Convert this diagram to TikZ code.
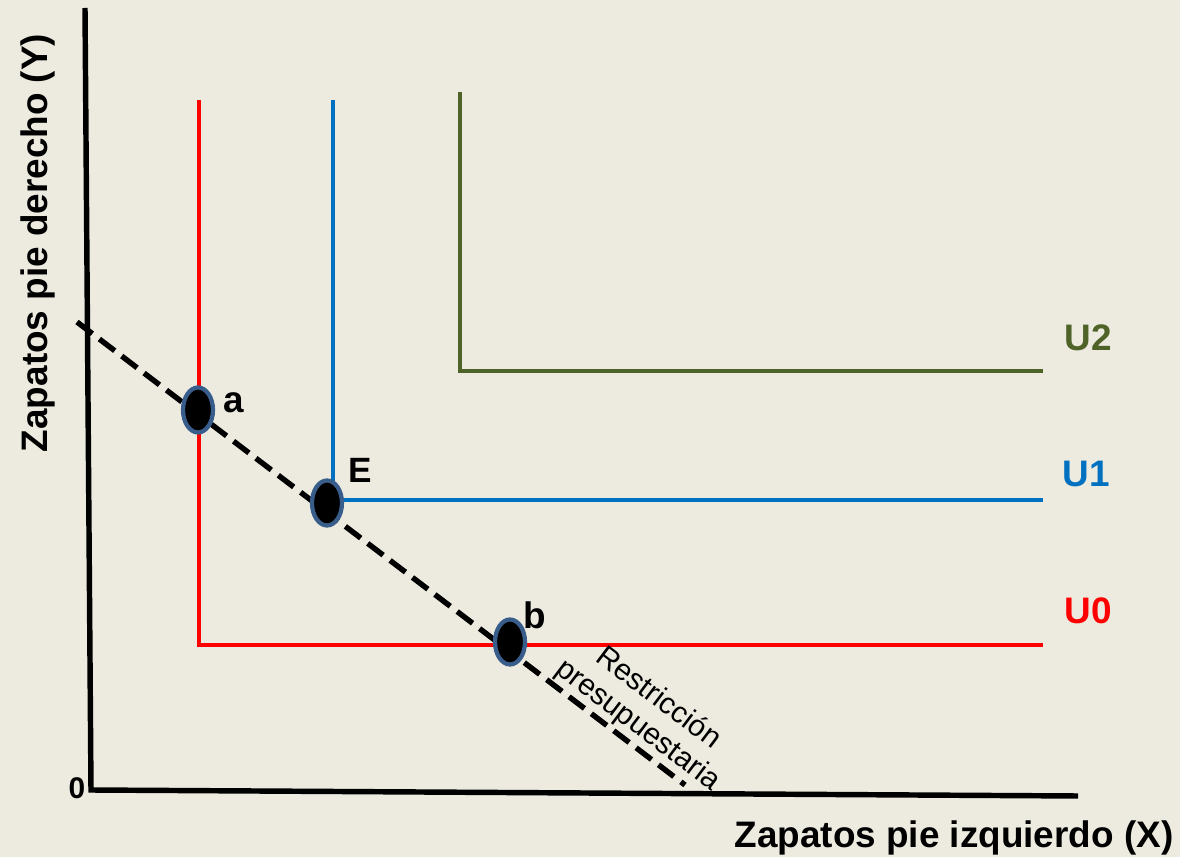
\documentclass[tikz,border=0pt]{standalone}
\usepackage{fontspec}
\setmainfont{Liberation Sans}
\usetikzlibrary{shapes.geometric}

\definecolor{bgcol}{RGB}{237,235,224}
\definecolor{ured}{RGB}{255,0,0}
\definecolor{ublue}{RGB}{0,112,192}
\definecolor{ugreen}{RGB}{79,98,40}
\definecolor{dotborder}{RGB}{56,93,138}

\begin{document}
\begin{tikzpicture}[x=0.02cm, y=-0.02cm,
    curve/.style={line width=2.7pt},
    point/.style={ellipse, draw=dotborder, fill=black, line width=2.4pt,
      minimum width=0.6cm, minimum height=0.9cm, inner sep=0pt},
    lbl/.style={font=\fontsize{21}{25}\selectfont\bfseries}]

    % Background and frame
    \fill[bgcol] (0,0) rectangle (1180,857);
    \useasboundingbox (0,0) rectangle (1180,857);

    % Axes
    \coordinate (ytop) at (85,8);
    \coordinate (origin) at (91,790);
    \coordinate (xend) at (1078,796);
    \draw[line width=3.1pt] (ytop) -- (origin) -- (xend);

    % Indifference curves (perfect complements)
    \draw[curve, ured] (199,100) -- (199,645) -- (1043,645);
    \draw[curve, ublue] (333,100) -- (333,500) -- (1043,500);
    \draw[curve, ugreen] (460,92) -- (460,371) -- (1043,371);

    % Budget line
    \coordinate (bstart) at (77,322);
    \coordinate (bend) at (685,785);
    \draw[line width=3.1pt, dash pattern=on 11pt off 5pt] (bstart) -- (bend);

    % Points on the budget line
    \node[point] (a) at (198,410) {};
    \node[point] (E) at (327,503) {};
    \node[point] (b) at (510,642) {};

    % Point labels
    \node[lbl] (la) at (234,403) {a};
    \node[lbl, font=\fontsize{20}{24}\selectfont\bfseries] (lE) at (360,470) {E};
    \node[lbl] (lb) at (535,615) {b};

    % Curve labels
    \node[lbl, text=ugreen] (lU2) at (1088,338) {U2};
    \node[lbl, text=ublue] (lU1) at (1086,474) {U1};
    \node[lbl, text=ured] (lU0) at (1088,611) {U0};

    % Axis labels
    \node[lbl, font=\fontsize{17}{20}\selectfont\bfseries] (zero) at (77,788) {0};
    \node[lbl, anchor=base] (xlabel) at (954,847) {Zapatos pie izquierdo (X)};
    \node[lbl, anchor=base, rotate=90] (ylabel) at (47,243) {Zapatos pie derecho (Y)};

    % Budget line label
    \node[rotate=-37, align=center, font=\fontsize{17}{19}\selectfont] (blabel) at (648,712) {Restricción\\presupuestaria};
\end{tikzpicture}
\end{document}
